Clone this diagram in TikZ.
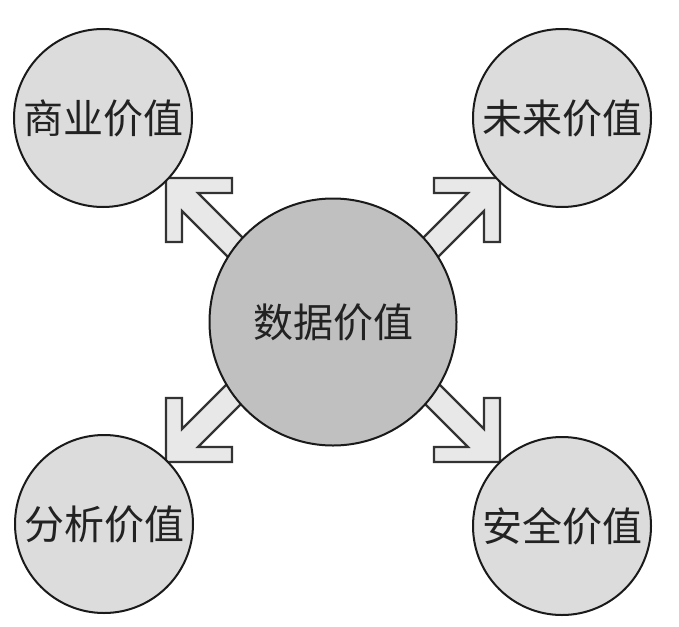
\documentclass[tikz,border=0pt]{standalone}
\usepackage{fontspec}
\newfontfamily\cjk{Noto Sans CJK SC}
\definecolor{smallfill}{HTML}{DCDCDC}
\definecolor{bigfill}{HTML}{C0C0C0}
\definecolor{arrowfill}{HTML}{E8E8E8}
\definecolor{edgecol}{HTML}{1A1A1A}
\definecolor{arrowedge}{HTML}{333333}
\definecolor{txtcol}{HTML}{222222}
\tikzset{
  valuecircle/.style={circle, draw=edgecol, line width=2pt, fill=smallfill, minimum size=178pt, inner sep=0pt,
    font=\cjk\fontsize{40}{40}\selectfont, text=txtcol},
  corecircle/.style={valuecircle, fill=bigfill, minimum size=247pt},
  blockarrow/.style={draw=arrowedge, line width=2.2pt, fill=arrowfill, line join=miter}
}
\newcommand{\lshapearrow}{%
  \path[blockarrow] (0,0) -- (66,0) -- (66,15) -- (32,15) -- (142,125) -- (126,143) -- (16,33) -- (16,64) -- (0,64) -- cycle;}
\begin{document}
\begin{tikzpicture}[x=1pt,y=-1pt]
\useasboundingbox[fill=white] (0,0) rectangle (679,626);
\coordinate (tl) at (166,178);
\coordinate (tr) at (500,178);
\coordinate (bl) at (166,462);
\coordinate (br) at (500,462);
\begin{scope}[shift={(tl)}] \lshapearrow \end{scope}
\begin{scope}[shift={(tr)}, xscale=-1] \lshapearrow \end{scope}
\begin{scope}[shift={(bl)}, yscale=-1] \lshapearrow \end{scope}
\begin{scope}[shift={(br)}, xscale=-1, yscale=-1] \lshapearrow \end{scope}
\node[corecircle] (core) at (333,322) {数据价值};
\node[valuecircle] (biz) at (103,118) {商业价值};
\node[valuecircle] (future) at (562,118) {未来价值};
\node[valuecircle] (analysis) at (104,524) {分析价值};
\node[valuecircle] (safety) at (562,526) {安全价值};
\end{tikzpicture}
\end{document}
